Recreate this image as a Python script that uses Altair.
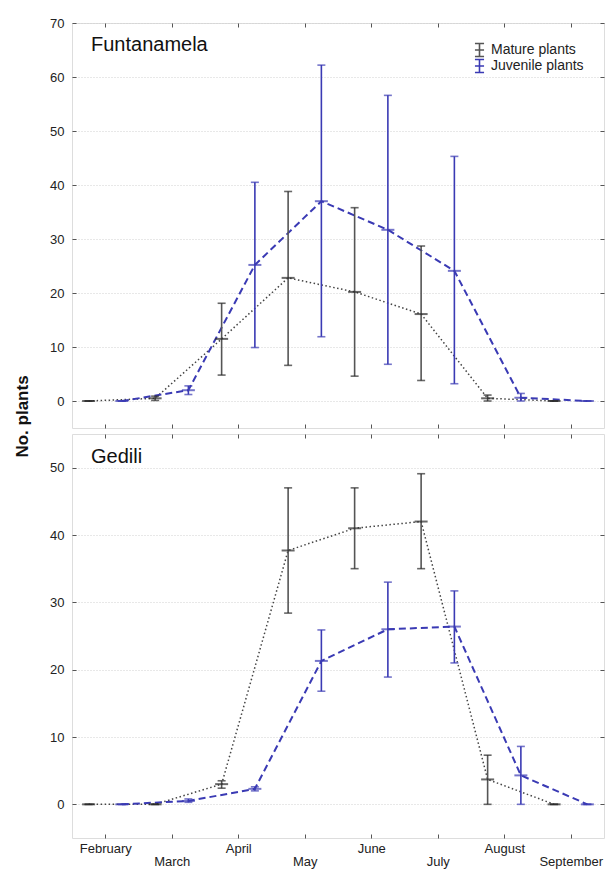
import json
import altair as alt
import pandas as pd

# ---------------- data ----------------
month_names = ["February", "March", "April", "May", "June", "July", "August", "September"]
months = [2, 3, 4, 5, 6, 7, 8, 9]
series_names = ["Mature plants", "Juvenile plants"]
series_offset = [-0.25, 0.25]  # sampling half-month offset of each series
panel_names = ["Funtanamela", "Gedili"]

# Funtanamela
fun_mature_mean = [0, 0.5, 11.5, 22.8, 20.2, 16.1, 0.5, 0]
fun_mature_lo = [0, 0.1, 4.8, 6.6, 4.6, 3.8, 0.0, 0]
fun_mature_hi = [0, 0.9, 18.1, 38.8, 35.8, 28.7, 1.1, 0]
fun_juv_mean = [0, 2.0, 25.2, 37.0, 31.7, 24.1, 0.6, 0]
fun_juv_lo = [0, 1.2, 9.9, 11.9, 6.8, 3.2, 0.0, 0]
fun_juv_hi = [0, 2.8, 40.5, 62.2, 56.6, 45.3, 1.4, 0]

# Gedili
ged_mature_mean = [0, 0, 3.0, 37.7, 41.0, 42.0, 3.7, 0]
ged_mature_lo = [0, 0, 2.4, 28.4, 35.0, 35.0, 0, 0]
ged_mature_hi = [0, 0, 3.5, 47.0, 47.0, 49.1, 7.3, 0]
ged_juv_mean = [0, 0.5, 2.3, 21.3, 26.0, 26.4, 4.3, 0]
ged_juv_lo = [0, 0.3, 2.0, 16.8, 18.9, 21.0, 0, 0]
ged_juv_hi = [0, 0.8, 2.6, 25.9, 33.0, 31.7, 8.6, 0]

fun_y_ticks = [0, 10, 20, 30, 40, 50, 60, 70]
ged_y_ticks = [0, 10, 20, 30, 40, 50]

# ---------------- styling ----------------
FONT = "Liberation Sans"
BLUE = "#3a3ab4"
MATURE_BAR = "#555555"
MATURE_CAP = "#2a2a2a"
MATURE_LINE = "#444444"
W = 532


def panel_df(mm, ml, mh, jm, jl, jh):
    rows = []
    for s, off, (m, l, h) in zip(series_names, series_offset, [(mm, ml, mh), (jm, jl, jh)]):
        for i, mo in enumerate(months):
            rows.append({"series": s, "x": mo + off, "mean": m[i], "lo": l[i], "hi": h[i]})
    return pd.DataFrame(rows)


names_js = json.dumps(month_names)
label_expr = (
    f"datum.value % 2 == 0 ? {names_js}[datum.value - 2] : ['', {names_js}[datum.value - 2]]"
)

inward = {"expr": "-4"}


def panel(df, ydomain, yticks, name, name_y, show_x_labels, show_legend, show_ytitle, h):
    xs = alt.Scale(domain=[1.5, 9.5], nice=False, zero=False)
    ys = alt.Scale(domain=ydomain, nice=False, zero=False)
    base = alt.Chart(df)

    if show_x_labels:
        xaxis = alt.Axis(
            values=months, labelExpr=label_expr, title=None, domain=False, grid=False,
            tickSize=inward, tickColor="#555", labelPadding=8, labelFontSize=13,
            labelLineHeight=13.5, labelFont=FONT, labelColor="#222", labelOverlap=False,
            labelFlush=False,
        )
    else:
        xaxis = alt.Axis(
            values=months, labels=False, title=None, domain=False, grid=False,
            tickSize=inward, tickColor="#555",
        )

    yaxis_kw = dict(
        values=yticks, domain=False, grid=True, gridColor="#d0d0d0", gridDash=[1, 2],
        tickSize=inward, tickColor="#555", labelPadding=12, labelFontSize=13,
        labelFont=FONT, labelColor="#222",
    )
    if show_ytitle:
        yaxis = alt.Axis(
            title="No. plants", titleFontSize=17, titleFontWeight="bold", titleFont=FONT,
            titleColor="#111", titleY=393, titlePadding=18, **yaxis_kw,
        )
    else:
        yaxis = alt.Axis(title=None, **yaxis_kw)

    if show_legend:
        legend = alt.Legend(
            title=None, orient="none", legendX=400, legendY=19,
            symbolType="M0,-1L0,1M-0.7,-1L0.7,-1M-0.7,0L0.7,0M-0.7,1L0.7,1",
            symbolSize=169, symbolStrokeWidth=1.6, symbolFillColor="transparent",
            labelFontSize=14, labelFont=FONT, labelColor="#222", rowPadding=0,
            clipHeight=16, labelOffset=4,
        )
    else:
        legend = None

    color = alt.Color(
        "series:N",
        scale=alt.Scale(domain=series_names, range=[MATURE_BAR, BLUE]),
        legend=legend,
    )
    fill = alt.Fill(
        "series:N",
        scale=alt.Scale(domain=series_names, range=[MATURE_CAP, BLUE]),
        legend=None,
    )

    rules = base.mark_rule(strokeWidth=1.6).encode(
        x=alt.X("x:Q", scale=xs, axis=xaxis),
        y=alt.Y("lo:Q", scale=ys, axis=yaxis),
        y2="hi:Q",
        color=color,
    )
    frame = base.mark_point(opacity=0).encode(
        x=alt.X("x:Q", scale=xs, axis=alt.Axis(orient="top", values=months, labels=False,
                                                 title=None, domain=False, grid=False,
                                                 tickSize=inward, tickColor="#555")),
        y=alt.Y("mean:Q", scale=ys, axis=alt.Axis(orient="right", values=yticks, labels=False,
                                                    title=None, domain=False, grid=False,
                                                    tickSize=inward, tickColor="#555")),
    )
    line_m = base.transform_filter(alt.datum.series == series_names[0]).mark_line(
        color=MATURE_LINE, strokeWidth=1.5, strokeDash=[1.5, 2.5]
    ).encode(x=alt.X("x:Q", scale=xs, axis=None), y=alt.Y("mean:Q", scale=ys, axis=None))
    line_j = base.transform_filter(alt.datum.series == series_names[1]).mark_line(
        color=BLUE, strokeWidth=2, strokeDash=[7, 4]
    ).encode(x=alt.X("x:Q", scale=xs, axis=None), y=alt.Y("mean:Q", scale=ys, axis=None))
    cap_lo = base.mark_tick(orient="horizontal", size=8, thickness=1.6).encode(
        x=alt.X("x:Q", scale=xs, axis=None), y=alt.Y("lo:Q", scale=ys, axis=None), fill=fill
    )
    cap_hi = base.mark_tick(orient="horizontal", size=8, thickness=1.6).encode(
        x=alt.X("x:Q", scale=xs, axis=None), y=alt.Y("hi:Q", scale=ys, axis=None), fill=fill
    )
    means = base.mark_tick(orient="horizontal", size=13, thickness=2).encode(
        x=alt.X("x:Q", scale=xs, axis=None), y=alt.Y("mean:Q", scale=ys, axis=None), fill=fill
    )
    label = alt.Chart(pd.DataFrame({"name": [name]})).mark_text(
        align="left", baseline="alphabetic", fontSize=20, font=FONT, color="#111"
    ).encode(text="name:N", x=alt.value(19), y=alt.value(name_y))

    return (
        alt.layer(frame, line_m, line_j, rules, cap_lo, cap_hi, means, label)
        .resolve_axis(x="independent", y="independent")
        .properties(width=W, height=h)
    )


top = panel(
    panel_df(fun_mature_mean, fun_mature_lo, fun_mature_hi, fun_juv_mean, fun_juv_lo, fun_juv_hi),
    [-5, 70], fun_y_ticks, panel_names[0], 28, False, True, True, 405,
)
bottom = panel(
    panel_df(ged_mature_mean, ged_mature_lo, ged_mature_hi, ged_juv_mean, ged_juv_lo, ged_juv_hi),
    [-5, 55], ged_y_ticks, panel_names[1], 29, True, False, False, 404,
)

chart = (
    alt.vconcat(top, bottom, spacing=6, bounds="flush")
    .resolve_scale(y="independent", color="independent", fill="independent")
    .resolve_legend(color="independent")
    .properties(padding={"left": 5, "top": 8, "right": 0, "bottom": 0})
    .configure_view(stroke="#666", strokeWidth=1.5)
    .configure(font=FONT)
)

chart.save("out.html", embed_options={"renderer": "svg", "actions": False})
